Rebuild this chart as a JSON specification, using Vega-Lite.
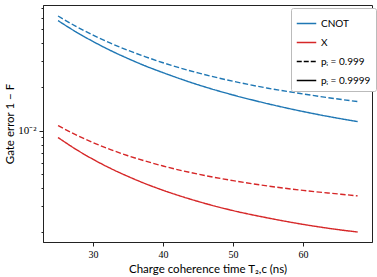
{
  "$schema": "https://vega.github.io/schema/vega-lite/v6.json",
  "autosize": "none",
  "width": 329,
  "height": 237,
  "padding": {"left": 43, "top": 5, "right": 5, "bottom": 35},
  "background": "white",
  "data": {"values": [
    {"T": 25, "err": 0.0574, "gate": "CNOT", "p": "0.9999"},
    {"T": 27.5, "err": 0.0482, "gate": "CNOT", "p": "0.9999"},
    {"T": 30, "err": 0.0412, "gate": "CNOT", "p": "0.9999"},
    {"T": 32.5, "err": 0.0357, "gate": "CNOT", "p": "0.9999"},
    {"T": 35, "err": 0.0314, "gate": "CNOT", "p": "0.9999"},
    {"T": 37.5, "err": 0.0279, "gate": "CNOT", "p": "0.9999"},
    {"T": 40, "err": 0.0251, "gate": "CNOT", "p": "0.9999"},
    {"T": 45, "err": 0.0207, "gate": "CNOT", "p": "0.9999"},
    {"T": 50, "err": 0.0176, "gate": "CNOT", "p": "0.9999"},
    {"T": 55, "err": 0.0153, "gate": "CNOT", "p": "0.9999"},
    {"T": 60, "err": 0.01353, "gate": "CNOT", "p": "0.9999"},
    {"T": 65, "err": 0.01216, "gate": "CNOT", "p": "0.9999"},
    {"T": 67.8, "err": 0.01153, "gate": "CNOT", "p": "0.9999"},
    {"T": 25, "err": 0.0618, "gate": "CNOT", "p": "0.999"},
    {"T": 27.5, "err": 0.0526, "gate": "CNOT", "p": "0.999"},
    {"T": 30, "err": 0.0456, "gate": "CNOT", "p": "0.999"},
    {"T": 32.5, "err": 0.0401, "gate": "CNOT", "p": "0.999"},
    {"T": 35, "err": 0.0358, "gate": "CNOT", "p": "0.999"},
    {"T": 37.5, "err": 0.0323, "gate": "CNOT", "p": "0.999"},
    {"T": 40, "err": 0.0294, "gate": "CNOT", "p": "0.999"},
    {"T": 45, "err": 0.0250, "gate": "CNOT", "p": "0.999"},
    {"T": 50, "err": 0.0219, "gate": "CNOT", "p": "0.999"},
    {"T": 55, "err": 0.0196, "gate": "CNOT", "p": "0.999"},
    {"T": 60, "err": 0.0179, "gate": "CNOT", "p": "0.999"},
    {"T": 65, "err": 0.0165, "gate": "CNOT", "p": "0.999"},
    {"T": 67.8, "err": 0.01585, "gate": "CNOT", "p": "0.999"},
    {"T": 25, "err": 0.00895, "gate": "X", "p": "0.9999"},
    {"T": 27.5, "err": 0.00745, "gate": "X", "p": "0.9999"},
    {"T": 30, "err": 0.00633, "gate": "X", "p": "0.9999"},
    {"T": 32.5, "err": 0.00548, "gate": "X", "p": "0.9999"},
    {"T": 35, "err": 0.00482, "gate": "X", "p": "0.9999"},
    {"T": 37.5, "err": 0.00429, "gate": "X", "p": "0.9999"},
    {"T": 40, "err": 0.00387, "gate": "X", "p": "0.9999"},
    {"T": 45, "err": 0.00324, "gate": "X", "p": "0.9999"},
    {"T": 50, "err": 0.00280, "gate": "X", "p": "0.9999"},
    {"T": 55, "err": 0.00249, "gate": "X", "p": "0.9999"},
    {"T": 60, "err": 0.00225, "gate": "X", "p": "0.9999"},
    {"T": 65, "err": 0.00207, "gate": "X", "p": "0.9999"},
    {"T": 67.8, "err": 0.001992, "gate": "X", "p": "0.9999"},
    {"T": 25, "err": 0.01083, "gate": "X", "p": "0.999"},
    {"T": 27.5, "err": 0.00937, "gate": "X", "p": "0.999"},
    {"T": 30, "err": 0.00825, "gate": "X", "p": "0.999"},
    {"T": 32.5, "err": 0.00739, "gate": "X", "p": "0.999"},
    {"T": 35, "err": 0.00670, "gate": "X", "p": "0.999"},
    {"T": 37.5, "err": 0.00615, "gate": "X", "p": "0.999"},
    {"T": 40, "err": 0.00569, "gate": "X", "p": "0.999"},
    {"T": 45, "err": 0.00500, "gate": "X", "p": "0.999"},
    {"T": 50, "err": 0.00451, "gate": "X", "p": "0.999"},
    {"T": 55, "err": 0.00414, "gate": "X", "p": "0.999"},
    {"T": 60, "err": 0.00386, "gate": "X", "p": "0.999"},
    {"T": 65, "err": 0.00365, "gate": "X", "p": "0.999"},
    {"T": 67.8, "err": 0.00354, "gate": "X", "p": "0.999"}
  ]},
  "mark": {"type": "line", "strokeWidth": 1.4, "interpolate": "monotone", "clip": true},
  "encoding": {
    "x": {
      "field": "T", "type": "quantitative",
      "scale": {"domain": [22.85, 69.85], "nice": false, "zero": false},
      "axis": {"values": [30, 40, 50, 60], "title": "Charge coherence time T₂,c (ns)", "grid": false, "tickSize": 4, "labelPadding": 3, "titlePadding": 4, "titleFontSize": 11.5}
    },
    "y": {
      "field": "err", "type": "quantitative",
      "scale": {"type": "log", "domain": [0.0017, 0.0736], "nice": false},
      "axis": {
        "values": [0.002, 0.003, 0.004, 0.005, 0.006, 0.007, 0.008, 0.009, 0.01, 0.02, 0.03, 0.04, 0.05, 0.06, 0.07],
        "labelExpr": "datum.value == 0.01 ? '10⁻²' : ''",
        "tickSize": {"condition": {"test": "datum.value == 0.01", "value": 4}, "value": 2},
        "labelOverlap": false,
        "labelBound": false,
        "labelFontSize": 11,
        "title": "Gate error 1 − F",
        "titleFontSize": 11.5,
        "grid": false,
        "labelPadding": 3,
        "titleX": -33,
        "titleBaseline": "middle"
      }
    },
    "color": {
      "field": "gate", "type": "nominal",
      "scale": {"domain": ["CNOT", "X", "pᵢ = 0.999", "pᵢ = 0.9999"], "range": ["#1f77b4", "#d62728", "#000000", "#000000"]},
      "legend": {
        "title": null,
        "orient": "none",
        "legendX": 248,
        "legendY": 3,
        "symbolType": "stroke",
        "symbolSize": 380,
        "symbolStrokeWidth": 1.5,
        "labelFont": "Lato",
        "labelFontSize": 10,
        "labelColor": "#000",
        "rowPadding": 3,
        "padding": 5,
        "strokeColor": "#bbbbbb",
        "fillColor": "white",
        "cornerRadius": 2,
        "encode": {
          "symbols": {"update": {"strokeDash": {"signal": "datum.value == 'pᵢ = 0.999' ? [5, 2] : [1, 0]"}}}
        }
      }
    },
    "strokeDash": {
      "field": "p", "type": "nominal",
      "scale": {"domain": ["0.999", "0.9999"], "range": [[5.5, 2.4], [1, 0]]},
      "legend": null
    },
    "detail": {"field": "p"}
  },
  "config": {
    "view": {"stroke": "#222", "strokeWidth": 1},
    "axis": {
      "domainColor": "#222",
      "tickColor": "#222",
      "labelColor": "#000",
      "titleColor": "#000",
      "labelFont": "Liberation Serif",
      "labelFontSize": 10,
      "titleFont": "Lato",
      "titleFontSize": 11,
      "titleFontWeight": "normal"
    }
  }
}
